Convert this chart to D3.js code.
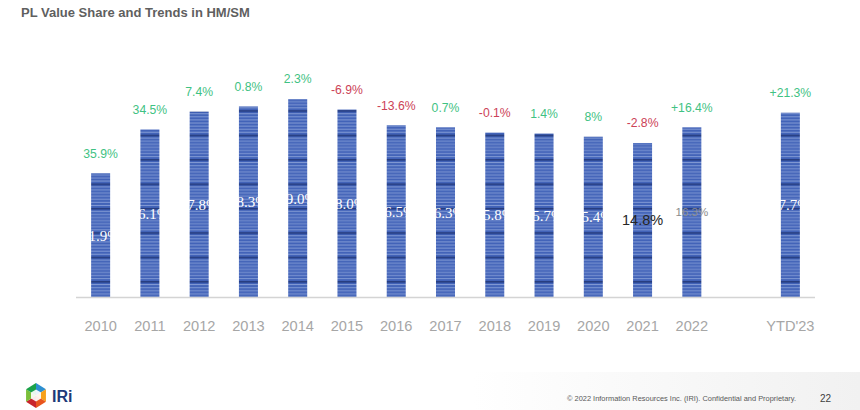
<!DOCTYPE html>
<html>
<head>
<meta charset="utf-8">
<script src="https://cdn.jsdelivr.net/npm/d3@7"></script>
<style>
  html, body { margin: 0; padding: 0; background: #fff; }
  svg { display: block; }
</style>
</head>
<body>
<svg id="chart" width="860" height="410"></svg>
<script>
// ---- data ----
const title = "PL Value Share and Trends in HM/SM";
const categories = ["2010","2011","2012","2013","2014","2015","2016","2017","2018","2019","2020","2021","2022","YTD'23"];
const shareValues = [11.9, 16.1, 17.8, 18.3, 19.0, 18.0, 16.5, 16.3, 15.8, 15.7, 15.4, 14.8, 16.3, 17.7];
const shareLabels = ["11.9%","16.1%","17.8%","18.3%","19.0%","18.0%","16.5%","16.3%","15.8%","15.7%","15.4%","14.8%","16.3%","17.7%"];
const growthLabels = ["35.9%","34.5%","7.4%","0.8%","2.3%","-6.9%","-13.6%","0.7%","-0.1%","1.4%","8%","-2.8%","+16.4%","+21.3%"];
const growthValues = [35.9, 34.5, 7.4, 0.8, 2.3, -6.9, -13.6, 0.7, -0.1, 1.4, 8, -2.8, 16.4, 21.3];
const footerText = "\u00A9 2022 Information Resources Inc. (IRI). Confidential and Proprietary.";
const pageNumber = "22";

// ---- layout ----
const svg = d3.select("#chart");
const W = 860, H = 410;
const baseY = 297.5;
const xLeft = 76, xRight = 815;

// slot domain with a gap between 2022 and YTD
const slots = [...categories.slice(0, 13), "__gap__", categories[13]];
const x = d3.scaleBand().domain(slots).range([xLeft, xRight]).paddingInner(0.614).paddingOuter(0.307);
const y = d3.scaleLinear().domain([0, 20]).range([baseY, baseY - 208.8]);

const defs = svg.append("defs");

// footer gradient
const grad = defs.append("linearGradient").attr("id", "footGrad").attr("x1", "0").attr("x2", "1").attr("y1", "0").attr("y2", "0");
grad.append("stop").attr("offset", "0").attr("stop-color", "#ffffff");
grad.append("stop").attr("offset", "0.55").attr("stop-color", "#ffffff");
grad.append("stop").attr("offset", "1").attr("stop-color", "#f1f1f1");
svg.append("rect").attr("x", 0).attr("y", 372).attr("width", W).attr("height", 38).attr("fill", "url(#footGrad)");

// bar stripe pattern
const tileH = 24.4;
const pat = defs.append("pattern").attr("id", "stripes")
  .attr("patternUnits", "userSpaceOnUse").attr("width", 40).attr("height", tileH).attr("y", 0);
pat.append("rect").attr("width", 40).attr("height", tileH).attr("fill", "#4263b8");
for (let i = 0; i < 8; i++) {
  pat.append("rect").attr("x", 0).attr("y", i * (tileH / 8) + 0.6).attr("width", 40).attr("height", 0.8)
    .attr("fill", "#b3c3ea").attr("opacity", 0.7);
}
pat.append("rect").attr("x", 0).attr("y", 12.8).attr("width", 40).attr("height", 1.3).attr("fill", "#1a2f70");

// title
svg.append("text").attr("x", 21).attr("y", 16.5)
  .attr("font-family", "Liberation Sans, Arial, sans-serif").attr("font-size", 13).attr("font-weight", "bold")
  .attr("fill", "#5f5f5f").text(title);

// bars
const data = categories.map((c, i) => ({ cat: c, v: shareValues[i], lab: shareLabels[i], g: growthValues[i], gl: growthLabels[i], i }));

svg.append("g").selectAll("rect").data(data).join("rect")
  .attr("x", d => x(d.cat)).attr("width", x.bandwidth())
  .attr("y", d => y(d.v)).attr("height", d => y(0) - y(d.v))
  .attr("fill", "url(#stripes)");

// axis baseline
svg.append("line").attr("x1", xLeft).attr("x2", xRight).attr("y1", baseY).attr("y2", baseY)
  .attr("stroke", "#d4d4d4").attr("stroke-width", 1.5);

// x axis labels
const xAxis = d3.axisBottom(x).tickSize(0).tickPadding(0).tickFormat(d => d === "__gap__" ? "" : d);
const gx = svg.append("g").attr("transform", `translate(0,${baseY})`).call(xAxis);
gx.select(".domain").remove();
gx.selectAll("text").attr("y", 33).attr("dy", null)
  .attr("font-family", "Liberation Sans, Arial, sans-serif").attr("font-size", 14.6).attr("fill", "#a6a6a6");

// value labels in the middle of each bar
svg.append("g").selectAll("text").data(data).join("text")
  .attr("x", d => x(d.cat) + x.bandwidth() / 2)
  .attr("y", d => (y(d.v) + y(0)) / 2)
  .attr("dy", "0.35em").attr("text-anchor", "middle")
  .attr("font-family", d => d.cat === "2021" || d.cat === "2022" ? "Liberation Sans, Arial, sans-serif" : "Liberation Serif, Times New Roman, serif")
  .attr("font-size", d => d.cat === "2021" ? 14.5 : (d.cat === "2022" ? 11.5 : 15))
  .attr("fill", d => d.cat === "2021" ? "#262626" : (d.cat === "2022" ? "#8c8c8c" : "#ffffff"))
  .text(d => d.lab);

// growth labels above bars
svg.append("g").selectAll("text").data(data).join("text")
  .attr("x", d => x(d.cat) + x.bandwidth() / 2)
  .attr("y", d => y(d.v) - 20)
  .attr("dy", "0.35em").attr("text-anchor", "middle")
  .attr("font-family", "Liberation Sans, Arial, sans-serif").attr("font-size", 12.2)
  .attr("fill", d => d.g < 0 ? "#cc4257" : "#3fc283")
  .text(d => d.gl);

// logo
const logo = svg.append("g").attr("transform", "translate(36,395.5)");
const R = 12.5;
const hex = d3.range(6).map(k => {
  const a = -Math.PI / 2 + k * Math.PI / 3;
  return [R * Math.cos(a) * 0.92, R * Math.sin(a)];
});
const segColors = ["#2d8fd0", "#f6a01a", "#e8541e", "#c8242b", "#7bbf3a", "#1aa24a"];
for (let k = 0; k < 6; k++) {
  const p1 = hex[k], p2 = hex[(k + 1) % 6];
  logo.append("path").attr("d", `M0,0L${p1[0]},${p1[1]}L${p2[0]},${p2[1]}Z`).attr("fill", segColors[k]);
}
logo.append("path").attr("d", "M-5,-3L0,-6L5,-3L5,3L0,6L-5,3Z").attr("fill", "#ffffff").attr("opacity", 0.9);
svg.append("text").attr("x", 52).attr("y", 402)
  .attr("font-family", "Liberation Sans, Arial, sans-serif").attr("font-size", 16).attr("font-weight", "bold")
  .attr("fill", "#1d3a78").text("IRi");

// footer
svg.append("text").attr("x", 567).attr("y", 400.5)
  .attr("font-family", "Liberation Sans, Arial, sans-serif").attr("font-size", 6.8)
  .attr("textLength", 229).attr("lengthAdjust", "spacingAndGlyphs")
  .attr("fill", "#595959").text(footerText);
svg.append("text").attr("x", 820).attr("y", 401.5)
  .attr("font-family", "Liberation Sans, Arial, sans-serif").attr("font-size", 10)
  .attr("fill", "#404040").text(pageNumber);
</script>
</body>
</html>
